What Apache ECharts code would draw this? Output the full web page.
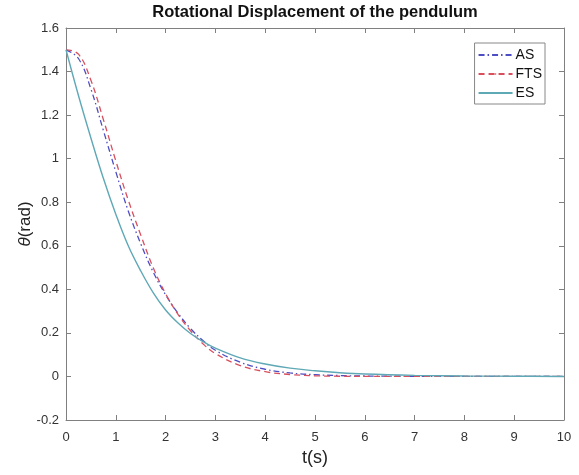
<!DOCTYPE html>
<html>
<head>
<meta charset="utf-8">
<script src="https://cdn.jsdelivr.net/npm/echarts@6/dist/echarts.min.js"></script>
<style>html,body{margin:0;padding:0;background:#fff;}#c{width:579px;height:475px;}</style>
</head>
<body>
<div id="c"></div>
<script>
const titleText = 'Rotational Displacement of the pendulum';
const xTicks = [0,1,2,3,4,5,6,7,8,9,10];
const yTicks = [-0.2,0,0.2,0.4,0.6,0.8,1,1.2,1.4,1.6];
const tTimes = [0,0.25,0.5,0.75,1.0,1.25,1.5,1.75,2.0,2.25,2.5,2.75,3.0,3.5,4.0,4.5,5.0,5.5,6.0,7.0,8.0,9.0,10.0];
const asVals  = [1.5,1.46,1.32,1.13,0.94,0.76,0.61,0.48,0.375,0.29,0.22,0.165,0.12,0.065,0.033,0.016,0.008,0.004,0.002,0.0005,0,0,0];
const ftsVals = [1.5,1.48,1.36,1.18,0.99,0.81,0.65,0.50,0.38,0.285,0.21,0.15,0.105,0.05,0.022,0.009,0.003,0.001,0.0005,0,0,0,0];
const esVals  = [1.5,1.29,1.095,0.91,0.745,0.60,0.485,0.385,0.305,0.245,0.197,0.16,0.13,0.085,0.057,0.038,0.026,0.017,0.011,0.005,0.002,0.001,0];
const seriesNames = ['AS','FTS','ES'];

const pairs = v => tTimes.map((t,i)=>[t,v[i]]);
const font = 'Liberation Sans, Arial, sans-serif';
const axisCol = '#808080';
const chart = echarts.init(document.getElementById('c'), null, {renderer:'canvas'});
chart.setOption({
  animation:false,
  backgroundColor:'#fff',
  graphic:[{type:'text', x:315, y:4, style:{text:titleText, textAlign:'center', font:'bold 16.5px '+font, fill:'#111'}}],
  grid:{left:66,right:15,top:28,bottom:55},
  legend:{
    orient:'vertical', right:34, top:43, data:seriesNames,
    itemWidth:34, itemHeight:2, itemGap:5,
    borderColor:'#888', borderWidth:1, borderRadius:0, backgroundColor:'#fff',
    padding:[5,3,4,3],
    textStyle:{fontFamily:font, fontSize:14, color:'#111', padding:[0,0,0,-2]}
  },
  xAxis:[{
    type:'value', min:0, max:10, interval:1, position:'bottom',
    name:'t(s)', nameLocation:'middle', nameGap:29, nameMoveOverlap:false,
    nameTextStyle:{fontFamily:font, fontSize:18, color:'#222'},
    axisLine:{show:true, onZero:false, lineStyle:{color:axisCol, width:1}},
    axisTick:{show:true, inside:true, length:5, lineStyle:{color:axisCol}},
    axisLabel:{fontFamily:font, fontSize:13, color:'#333', margin:11},
    splitLine:{show:false}
  },{
    type:'value', min:0, max:10, interval:1, position:'top',
    axisLine:{show:true, onZero:false, lineStyle:{color:axisCol, width:1}},
    axisTick:{show:true, inside:true, length:5, lineStyle:{color:axisCol}},
    axisLabel:{show:false}, splitLine:{show:false}
  }],
  yAxis:[{
    type:'value', min:-0.2, max:1.6, interval:0.2, position:'left',
    name:'{i|θ}(rad)', nameLocation:'middle', nameGap:32, nameMoveOverlap:false,
    nameTextStyle:{fontFamily:font, fontSize:17, color:'#222', rich:{i:{fontFamily:font, fontSize:17, fontStyle:'italic', color:'#222'}}},
    axisLine:{show:true, onZero:false, lineStyle:{color:axisCol, width:1}},
    axisTick:{show:true, inside:true, length:5, lineStyle:{color:axisCol}},
    axisLabel:{fontFamily:font, fontSize:13, color:'#333', margin:7, formatter:v=>String(Math.round(v*10)/10)},
    splitLine:{show:false}
  },{
    type:'value', min:-0.2, max:1.6, interval:0.2, position:'right',
    axisLine:{show:true, onZero:false, lineStyle:{color:axisCol, width:1}},
    axisTick:{show:true, inside:true, length:5, lineStyle:{color:axisCol}},
    axisLabel:{show:false}, splitLine:{show:false}
  }],
  series:[
    {name:'AS', type:'line', data:pairs(asVals), smooth:0.4, symbol:'none', color:'#4e4ec4',
     lineStyle:{color:'#4e4ec4', width:1.3, type:[6,3,1.5,3]}},
    {name:'FTS', type:'line', data:pairs(ftsVals), smooth:0.4, symbol:'none', color:'#d8505e',
     lineStyle:{color:'#d8505e', width:1.3, type:[6,4]}},
    {name:'ES', type:'line', data:pairs(esVals), smooth:0.4, symbol:'none', color:'#5fa8b6',
     lineStyle:{color:'#5fa8b6', width:1.4, type:'solid'}}
  ]
});
</script>
</body>
</html>
